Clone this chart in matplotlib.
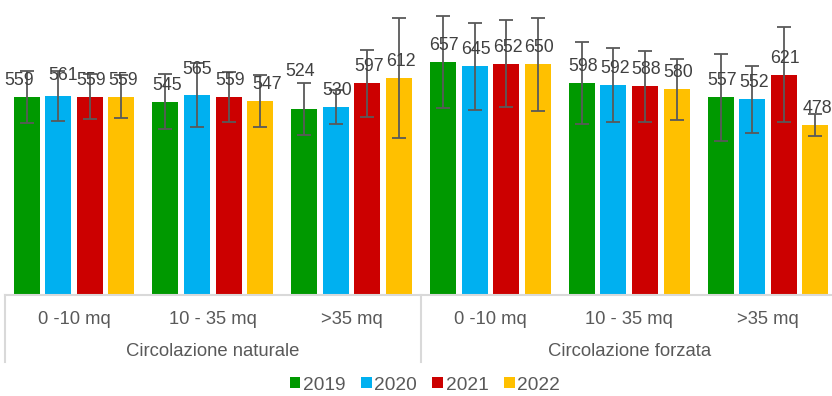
import matplotlib
matplotlib.use("Agg")
import matplotlib.pyplot as plt
import numpy as np

plt.rcParams['font.family'] = ['Liberation Sans', 'DejaVu Sans']

groups = ["Circolazione naturale", "Circolazione forzata"]
sizes = ["0 -10 mq", "10 - 35 mq", ">35 mq"]
categories = [s for g in groups for s in sizes]
years = ["2019", "2020", "2021", "2022"]

v2019 = [559, 545, 524, 657, 598, 557]
v2020 = [561, 565, 530, 645, 592, 552]
v2021 = [559, 559, 597, 652, 588, 621]
v2022 = [559, 547, 612, 650, 580, 478]

e2019 = [73, 78, 73, 131, 115, 123]
e2020 = [70, 90, 48, 123, 104, 95]
e2021 = [63, 70, 94, 123, 100, 134]
e2022 = [61, 72, 170, 131, 86, 31]

values = [v2019, v2020, v2021, v2022]
errors = [e2019, e2020, e2021, e2022]
colors = ["#009900", "#00B0F0", "#CC0000", "#FFC000"]

# label nudges in pixels (dx, dy) for specific labels (style only)
nudges = {(0, 0): (-7, 0), (1, 0): (5, 4), (1, 1): (0, 9), (0, 2): (-4, 21),
          (3, 1): (7, 0)}

W, H = 832, 396
fig = plt.figure(figsize=(W / 100, H / 100), dpi=100)
left_px, right_px = 4.6, 837.4
top_px, base_px = 11.3, 295
ax = fig.add_axes([left_px / W, (H - base_px) / H, (right_px - left_px) / W,
                   (base_px - top_px) / H])

n = len(categories)
x = np.arange(n)
pitch = 0.228
bw = 0.187
for i, (vals, errs, col, yr) in enumerate(zip(values, errors, colors, years)):
    xs = x + (i - 1.5) * pitch
    ax.bar(xs, vals, width=bw, color=col, label=yr, zorder=2)
    ax.errorbar(xs, vals, yerr=errs, fmt='none', ecolor='#595959',
                elinewidth=1.3, capsize=5, capthick=1.3, zorder=3)
    for j, (xx, v) in enumerate(zip(xs, vals)):
        dx, dy = nudges.get((i, j), (1.5, 0))
        ax.annotate(str(v), (xx, v), xytext=(dx * 0.72, (12 + dy) * 0.72),
                    textcoords='offset points', ha='center', va='baseline',
                    fontsize=12.8, color='#404040', zorder=4)

ax.set_xlim(-0.5, n - 0.5)
ax.set_ylim(0, 800)
for s in ['top', 'right', 'left']:
    ax.spines[s].set_visible(False)
ax.spines['bottom'].set_color('#d9d9d9')
ax.spines['bottom'].set_linewidth(1.5)
ax.set_yticks([])
ax.set_xticks([])

ah = base_px - top_px
trans = ax.get_xaxis_transform()
sep_bottom = -(362 - base_px) / ah
for xb in [-0.5, 2.5, 5.5]:
    ax.plot([xb, xb], [0, sep_bottom], transform=trans, color='#d9d9d9',
            lw=1.5, clip_on=False)
for xi, lab in zip(x, categories):
    ax.text(xi, -(319 - base_px) / ah, lab, transform=trans, ha='center',
            va='center', fontsize=13.2, color='#595959')
for gi, g in enumerate(groups):
    ax.text(gi * 3 + 1, -(352 - base_px) / ah, g, transform=trans, ha='center',
            va='center', fontsize=13.3, color='#595959')

leg = fig.legend(loc='center', bbox_to_anchor=(425 / W, (H - 385) / H), ncol=4,
                 frameon=False, fontsize=13.8, handlelength=0.55, handleheight=0.55,
                 handletextpad=0.15, columnspacing=0.8, borderaxespad=0)
for t in leg.get_texts():
    t.set_color('#595959')

fig.savefig('out.png', dpi=100)
